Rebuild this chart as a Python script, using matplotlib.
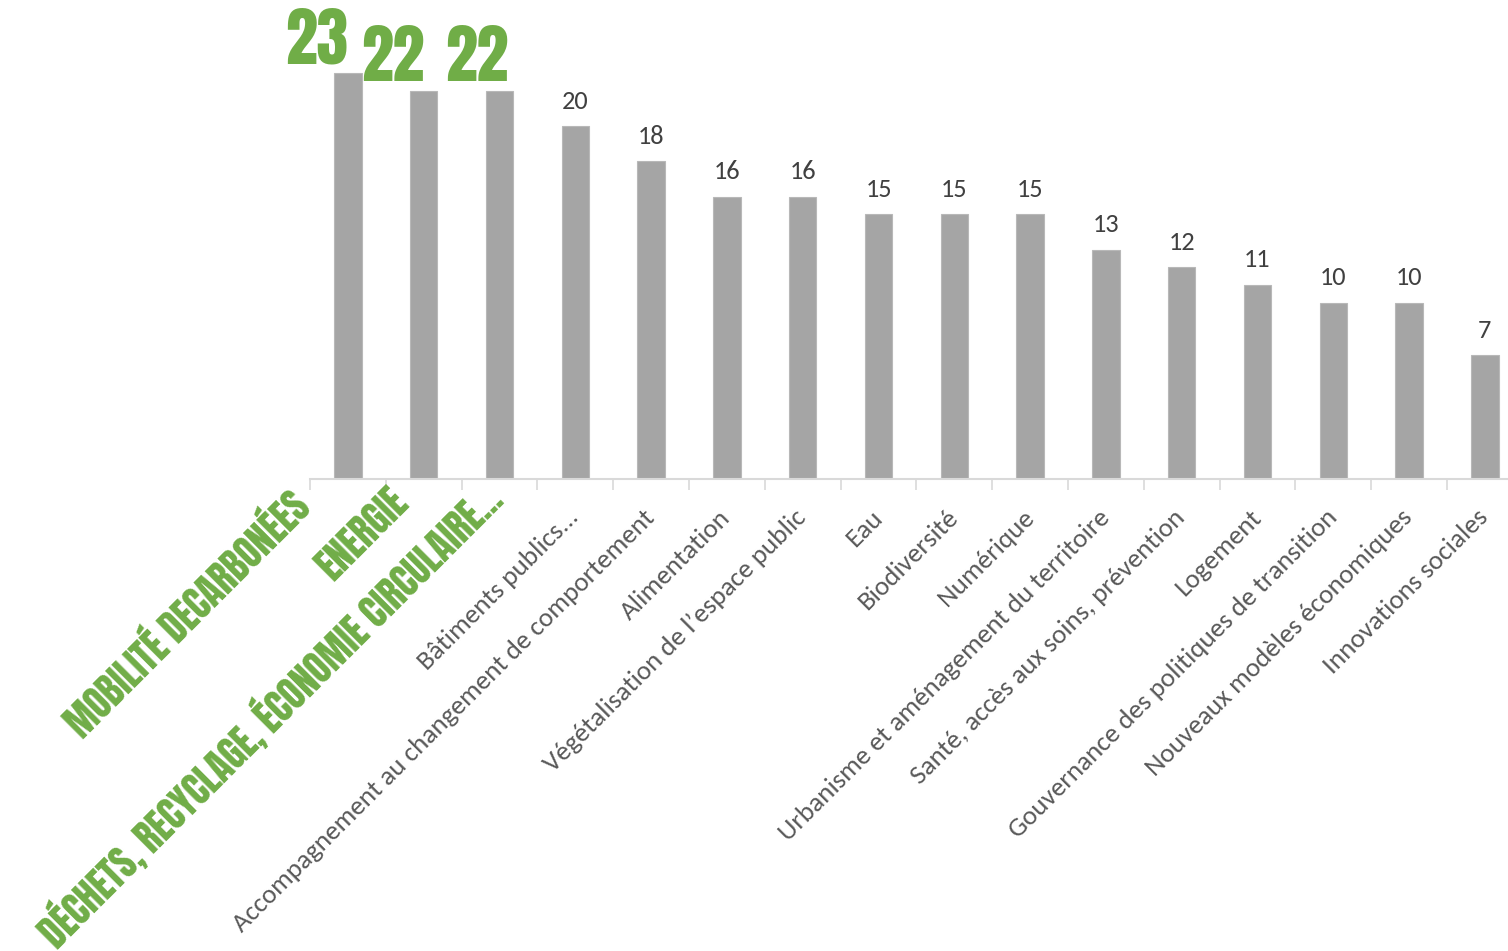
import numpy as np
import matplotlib.pyplot as plt

# Données
categories = [
    "MOBILITÉ DECARBONÉES",
    "ENERGIE",
    "DÉCHETS, RECYCLAGE, ÉCONOMIE CIRCULAIRE...",
    "Bâtiments publics...",
    "Accompagnement au changement de comportement",
    "Alimentation",
    "Végétalisation de l’espace public",
    "Eau",
    "Biodiversité",
    "Numérique",
    "Urbanisme et aménagement du territoire",
    "Santé, accès aux soins, prévention",
    "Logement",
    "Gouvernance des politiques de transition",
    "Nouveaux modèles économiques",
    "Innovations sociales",
]
valeurs = [23, 22, 22, 20, 18, 16, 16, 15, 15, 15, 13, 12, 11, 10, 10, 7]
nb_vert = 3  # les trois premières thématiques mises en avant

vert = "#70ad47"
gris_barre = "#a5a5a5"
gris_texte = "#595959"
gris_axe = "#d9d9d9"
police_texte = ["Carlito", "Open Sans", "DejaVu Sans"]
police_vert = ["Anton", "Impact", "DejaVu Sans"]

W, H = 1508, 951
fig = plt.figure(figsize=(W / 100, H / 100), dpi=100)
px_unite = 17.65
x0, y0, pas = 310, 479, 75.8
ymax = 25
ax = fig.add_axes([x0 / W, (H - y0) / H, 16 * pas / W, ymax * px_unite / H])

x = np.arange(len(categories))
ax.bar(x, valeurs, width=0.36, color=gris_barre, edgecolor="#b8b8b8", linewidth=0.8, zorder=2)
ax.set_xlim(-0.5, len(categories) - 0.5)
ax.set_ylim(0, ymax)

for s in ["top", "right", "left"]:
    ax.spines[s].set_visible(False)
ax.spines["bottom"].set_color(gris_axe)
ax.spines["bottom"].set_linewidth(1.5)
ax.set_yticks([])
ax.set_xticks(np.arange(-0.5, len(categories), 1.0))
ax.set_xticklabels([])
ax.tick_params(axis="x", length=8, width=1.2, color=gris_axe)

pt = 0.72  # 1 pixel en points (dpi 100)

# valeurs au-dessus des barres
decalage_nombres = [0, 0, 9]
for i, v in enumerate(valeurs):
    if i < nb_vert:
        ax.annotate(str(v), (i, v), xytext=(decalage_nombres[i] * pt, 10 * pt),
                    textcoords="offset points", ha="right", va="baseline",
                    fontsize=46, color=vert, family=police_vert)
    else:
        ax.annotate(str(v), (i, v), xytext=(0, 12.5), textcoords="offset points",
                    ha="center", va="baseline", fontsize=19, color="#404040",
                    family=police_texte)

# étiquettes inclinées (fin de ligne de base de chaque étiquette)
decalage_vert = [(-35, -31), (-13, -26), (6, -23)]
for i, lab in enumerate(categories):
    if i < nb_vert:
        dx, dy = decalage_vert[i]
        ax.annotate(lab, (i, 0), xytext=(dx * pt, dy * pt),
                    textcoords="offset points", ha="right", va="baseline",
                    rotation=45, rotation_mode="anchor", fontsize=27,
                    color=vert, family=police_vert,
                    annotation_clip=False)
    else:
        ax.annotate(lab, (i, 0), xytext=(5 * pt, -40 * pt),
                    textcoords="offset points", ha="right", va="baseline",
                    rotation=45, rotation_mode="anchor", fontsize=19.5,
                    color=gris_texte, family=police_texte,
                    annotation_clip=False)

fig.savefig("out.png", dpi=100)
